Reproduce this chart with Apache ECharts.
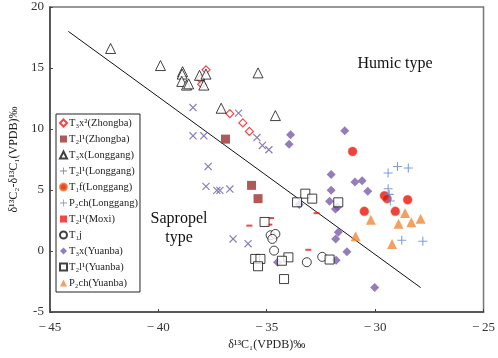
<!DOCTYPE html>
<html>
<head>
<meta charset="utf-8">
<script src="https://cdn.jsdelivr.net/npm/echarts@6/dist/echarts.min.js"></script>
<style>
  html, body { margin: 0; padding: 0; background: #fff; }
  #chart { width: 498px; height: 358px; }
</style>
</head>
<body>
<div id="chart"></div>
<script>
// axis ticks
var xTicks = [-45, -40, -35, -30, -25];
var yTicks = [-5, 0, 5, 10, 15, 20];

// boundary line between the two kerogen types
var divideLine = [[-44.15, 18.0], [-27.9, -3.0]];

// [δ13C1, δ13C2-δ13C1]
var t3x2Zhongba = [[-37.8, 14.85], [-38.06, 14.1], [-38.0, 13.67], [-36.7, 11.26], [-36.1, 10.5], [-35.8, 9.8]];
var t2l1Zhongba = [[-36.9, 9.17], [-35.7, 5.38], [-35.4, 4.29]];
var t3xLonggang = [[-42.2, 16.6], [-39.9, 15.2], [-38.88, 14.7], [-38.9, 14.5], [-38.92, 13.9], [-38.7, 13.6],
  [-38.6, 13.7], [-38.1, 14.4], [-37.8, 14.5], [-37.9, 13.6], [-35.4, 14.6], [-37.1, 11.7], [-34.6, 11.1]];
var t2l1Longgang = [[-38.4, 11.76], [-36.3, 11.3], [-38.4, 9.44], [-37.9, 9.44], [-35.45, 9.3], [-35.2, 8.65],
  [-34.9, 8.3], [-37.7, 6.93], [-37.8, 5.3], [-37.3, 4.97], [-37.16, 4.97], [-36.7, 5.08], [-36.55, 0.99], [-35.86, 0.6]];
var t1fLonggang = [[-31.04, 8.16], [-30.5, 3.25], [-29.57, 4.53], [-29.45, 4.29], [-28.5, 4.2], [-29.07, 3.25]];
var p2chLonggang = [[-29.4, 6.39], [-28.97, 6.93], [-28.47, 6.8], [-29.4, 5.1], [-29.35, 4.64], [-29.3, 4.1],
  [-28.77, 0.88], [-27.8, 0.8]];
var t2l1Moxi = [[-35.8, 2.08], [-34.8, 2.7], [-34.88, 2.16], [-32.7, 3.1], [-33.08, 0.1]];
var t1j = [[-34.82, 1.29], [-34.6, 1.4], [-34.74, 0.99], [-34.66, 0.03], [-33.15, -0.92], [-32.44, -0.48]];
var t3xYuanba = [[-33.9, 9.53], [-33.97, 8.76], [-31.4, 9.85], [-32.03, 6.28], [-32.03, 4.97], [-32.1, 4.07],
  [-31.83, 3.44], [-31.73, 3.61], [-30.93, 5.65], [-30.6, 5.76], [-30.34, 4.89], [-31.7, 1.53], [-31.82, 0.99],
  [-31.3, -0.07], [-31.8, -0.76], [-33.5, 3.82], [-34.5, -0.92], [-30.02, -3.0]];
var t2l1Yuanba = [[-33.22, 4.7], [-32.9, 4.29], [-33.6, 3.99], [-31.7, 3.99], [-35.1, 2.38], [-35.53, -0.65],
  [-35.29, -0.65], [-35.4, -1.25], [-34.0, -0.52], [-34.3, -0.8], [-32.1, -0.7], [-34.2, -2.3]];
var p2chYuanba = [[-30.2, 2.57], [-30.9, 1.2], [-28.62, 3.12], [-27.9, 2.65], [-28.92, 2.24], [-28.33, 2.35], [-29.22, 0.58]];

var serif = "'Liberation Serif', 'DejaVu Serif', serif";
var plusPath = 'path://M0,4.4h10v1.2h-10z M4.4,0h1.2v10h-1.2z';

function pt(name, data, symbol, size, style, rotate) {
  return {
    name: name,
    type: 'scatter',
    data: data,
    symbol: symbol,
    symbolSize: size,
    symbolRotate: rotate || 0,
    itemStyle: style,
    z: 3
  };
}

var chart = echarts.init(document.getElementById('chart'));
chart.setOption({
  animation: false,
  textStyle: { fontFamily: serif },
  grid: { left: 44, right: 12, top: 7, bottom: 46, show: true, borderColor: '#777', borderWidth: 1.5 },
  xAxis: {
    type: 'value', min: xTicks[0], max: xTicks[xTicks.length - 1], interval: 5,
    name: 'δ¹³C₁(VPDB)‰', nameLocation: 'middle', nameGap: 27,
    nameTextStyle: { fontFamily: serif, fontSize: 12, color: '#222' },
    axisLine: { onZero: false, lineStyle: { color: '#444', width: 1.5 } },
    axisTick: { inside: true, length: 3, lineStyle: { color: '#444' } },
    axisLabel: { fontFamily: serif, fontSize: 13, color: '#333', margin: 9,
      formatter: function (v) { return String(v).replace('-', '−\u2009'); } },
    splitLine: { show: false }
  },
  yAxis: {
    type: 'value', min: yTicks[0], max: yTicks[yTicks.length - 1], interval: 5,
    name: 'δ¹³C₂-δ¹³C₁(VPDB)‰', nameLocation: 'middle', nameGap: 27, nameRotate: 90,
    nameTextStyle: { fontFamily: serif, fontSize: 12, color: '#222' },
    axisLine: { onZero: false, lineStyle: { color: '#444', width: 1.5 } },
    axisTick: { inside: true, length: 3, lineStyle: { color: '#444' } },
    axisLabel: { fontFamily: serif, fontSize: 13, color: '#333', margin: 6 },
    splitLine: { show: false }
  },
  legend: {
    orient: 'vertical', left: 56, top: 114, width: 79,
    padding: [3, 2, 3, 3], itemGap: 4, itemWidth: 7, itemHeight: 7,
    borderColor: '#222', borderWidth: 1, backgroundColor: '#fff',
    textStyle: { fontFamily: serif, fontSize: 10.5, color: '#222', lineHeight: 12, padding: [0, 0, 0, -3] },
    data: ['T₃x²(Zhongba)', 'T₂l¹(Zhongba)', 'T₃x(Longgang)', 'T₂l¹(Longgang)', 'T₁f(Longgang)', 'P₂ch(Longgang)',
      'T₂l¹(Moxi)', 'T₁j', 'T₃x(Yuanba)', 'T₂l¹(Yuanba)', 'P₂ch(Yuanba)']
  },
  graphic: [
    { type: 'text', x: 395, y: 56, style: { text: 'Humic type', font: '16px ' + serif, fill: '#111', align: 'center' } },
    { type: 'text', x: 179, y: 209, style: { text: 'Sapropel\ntype', font: '16px ' + serif, fill: '#111', align: 'center', lineHeight: 19 } }
  ],
  series: [
    {
      type: 'line', data: divideLine, symbol: 'none', silent: true, z: 2,
      lineStyle: { color: '#111', width: 1 }
    },
    pt('T₃x²(Zhongba)', t3x2Zhongba, 'diamond', 8, { color: '#fff', borderColor: '#f01818', borderWidth: 1.2 }),
    pt('T₂l¹(Zhongba)', t2l1Zhongba, 'rect', 9, { color: '#9b2f2f' }),
    pt('T₃x(Longgang)', t3xLonggang, 'triangle', 10, { color: '#fff', borderColor: '#111', borderWidth: 1 }),
    pt('T₂l¹(Longgang)', t2l1Longgang, plusPath, 10, { color: '#6e5fa6' }, 45),
    pt('T₁f(Longgang)', t1fLonggang, 'circle', 9, { color: '#ee1010', borderColor: '#f07a20', borderWidth: 0.6 }),
    pt('P₂ch(Longgang)', p2chLonggang, plusPath, 9, { color: '#5b87d2' }),
    pt('T₂l¹(Moxi)', t2l1Moxi, 'rect', [6, 2], { color: '#f01818' }),
    pt('T₁j', t1j, 'circle', 9, { color: '#fff', borderColor: '#111', borderWidth: 1 }),
    pt('T₃x(Yuanba)', t3xYuanba, 'diamond', 9, { color: '#7a5cab' }),
    pt('T₂l¹(Yuanba)', t2l1Yuanba, 'rect', 9, { color: '#fff', borderColor: '#111', borderWidth: 1 }),
    pt('P₂ch(Yuanba)', p2chYuanba, 'triangle', 10, { color: '#f08a3a' })
  ]
});
</script>
</body>
</html>
